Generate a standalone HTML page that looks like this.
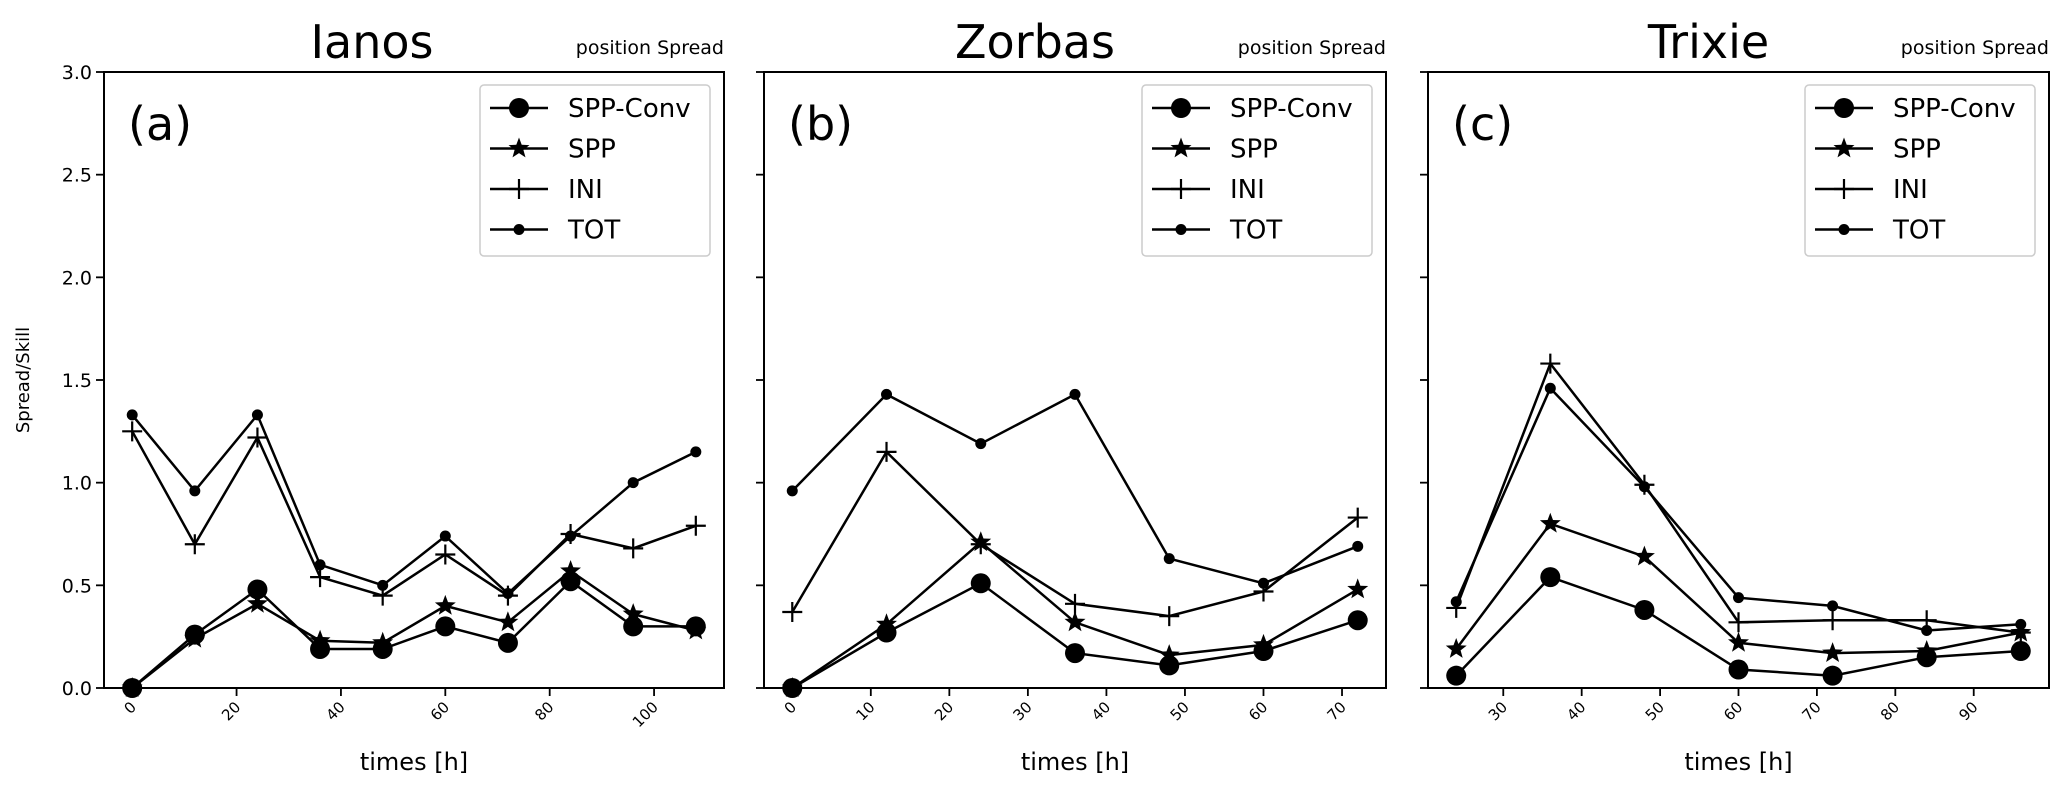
<!DOCTYPE html>
<html><head><meta charset="utf-8"><style>
body{margin:0;background:#fff;}
svg{display:block;font-family:"DejaVu Sans","Liberation Sans",sans-serif;}
</style></head><body>
<svg id="fig" width="2067" height="795" viewBox="0 0 2067 795"></svg>
<script>
const seriesNames = ["SPP-Conv","SPP","INI","TOT"];
const titles = ["Ianos","Zorbas","Trixie"];
const panelLabels = ["(a)","(b)","(c)"];
const timesA = [0,12,24,36,48,60,72,84,96,108];
const convA = [0,0.26,0.48,0.19,0.19,0.30,0.22,0.52,0.30,0.30];
const sppA = [0,0.24,0.41,0.23,0.22,0.40,0.32,0.57,0.36,0.28];
const iniA = [1.25,0.70,1.22,0.54,0.45,0.65,0.45,0.75,0.68,0.79];
const totA = [1.33,0.96,1.33,0.60,0.50,0.74,0.46,0.74,1.00,1.15];
const timesB = [0,12,24,36,48,60,72];
const convB = [0,0.27,0.51,0.17,0.11,0.18,0.33];
const sppB = [0,0.31,0.71,0.32,0.16,0.21,0.48];
const iniB = [0.37,1.15,0.70,0.41,0.35,0.47,0.83];
const totB = [0.96,1.43,1.19,1.43,0.63,0.51,0.69];
const timesC = [24,36,48,60,72,84,96];
const convC = [0.06,0.54,0.38,0.09,0.06,0.15,0.18];
const sppC = [0.19,0.80,0.64,0.22,0.17,0.18,0.27];
const iniC = [0.39,1.58,0.99,0.32,0.33,0.33,0.27];
const totC = [0.42,1.46,0.98,0.44,0.40,0.28,0.31];
const xTicksA = [0,20,40,60,80,100];
const xTicksB = [0,10,20,30,40,50,60,70];
const xTicksC = [30,40,50,60,70,80,90];
const yTicks = [0.0,0.5,1.0,1.5,2.0,2.5,3.0];

const NS="http://www.w3.org/2000/svg";
const svg=document.getElementById('fig');
function mk(tag,attrs,parent,text){const e=document.createElementNS(NS,tag);for(const k in attrs)e.setAttribute(k,attrs[k]);if(text!==undefined)e.textContent=text;(parent||svg).appendChild(e);return e;}

const panels=[
 {l:104,r:724,times:timesA,data:[convA,sppA,iniA,totA],ticks:xTicksA,toff:-42},
 {l:764,r:1386,times:timesB,data:[convB,sppB,iniB,totB],ticks:xTicksB,toff:-40},
 {l:1428,r:2049,times:timesC,data:[convC,sppC,iniC,totC],ticks:xTicksC,toff:-30}
];
const axTop=72,axBot=688;
function yS(v){return axBot-(v/3)*(axBot-axTop);}
function starPts(cx,cy,R){let p=[];for(let i=0;i<10;i++){const r=i%2?R*0.42:R;const a=-Math.PI/2+i*Math.PI/5;p.push((cx+r*Math.cos(a)).toFixed(1)+","+(cy+r*Math.sin(a)).toFixed(1));}return p.join(" ");}
function marker(g,k,x,y){
 let m;
 if(k===0){m=mk('circle',{cx:x,cy:y,r:10,fill:'#000'},g);}
 else if(k===1){m=mk('polygon',{points:starPts(x,y,11),fill:'#000'},g);}
 else if(k===2){m=mk('path',{d:`M${x-10},${y}H${x+10}M${x},${y-10}V${y+10}`,stroke:'#000','stroke-width':2.2},g);}
 else {m=mk('circle',{cx:x,cy:y,r:5.5,fill:'#000'},g);}
 
}

panels.forEach((P,pi)=>{
 const tmin=P.times[0],tmax=P.times[P.times.length-1],pad=(tmax-tmin)*0.05;
 const x0=tmin-pad,x1=tmax+pad;
 const xS=t=>P.l+(t-x0)/(x1-x0)*(P.r-P.l);
 const g=mk('g',{});
 
 
 const t=mk('text',{x:(P.l+P.r)/2+P.toff,y:58,'font-size':46,'text-anchor':'middle'},g,titles[pi]);
 
 
 const st=mk('text',{x:P.r,y:54,'font-size':19,'text-anchor':'end'},g,'position Spread');
 
 
 yTicks.forEach(v=>{
  const tk=mk('line',{x1:P.l-8,x2:P.l,y1:yS(v),y2:yS(v),stroke:'#000','stroke-width':1.8},g);
  
  
  if(pi===0){const tl=mk('text',{x:P.l-12,y:yS(v)+7,'font-size':19,'text-anchor':'end'},g,v.toFixed(1));
   
   }
 });
 P.ticks.forEach(v=>{
  const x=xS(v);
  const tk=mk('line',{x1:x,x2:x,y1:axBot,y2:axBot+8,stroke:'#000','stroke-width':1.8},g);
  
  
  const tl=mk('text',{x:x+5,y:axBot+20,'font-size':15,'text-anchor':'end',transform:`rotate(-45 ${x+5} ${axBot+20})`},g,String(v));
  
  
 });
 const xl=mk('text',{x:(P.l+P.r)/2,y:770,'font-size':24,'text-anchor':'middle'},g,'times [h]');
 
 
 P.data.forEach((arr,k)=>{
  const sg=mk('g',{},g);
  
  
  const pts=arr.map((v,i)=>xS(P.times[i]).toFixed(1)+','+yS(v).toFixed(1)).join(' ');
  const pl=mk('polyline',{points:pts,fill:'none',stroke:'#000','stroke-width':2.5},sg);
  
  
  arr.forEach((v,i)=>marker(sg,k,xS(P.times[i]),yS(v)));
 });
 const fr=mk('rect',{x:P.l,y:axTop,width:P.r-P.l,height:axBot-axTop,fill:'none',stroke:'#000','stroke-width':2},g);
 
 
 const pl=mk('text',{x:P.l+24,y:140,'font-size':46},g,panelLabels[pi]);
 
 
 const lg=mk('g',{},g);
 
 
 const lx=P.r-244;
 mk('rect',{x:lx,y:85,width:230,height:171,rx:4,fill:'#fff',stroke:'#ccc','stroke-width':1.5},lg);
 seriesNames.forEach((n,k)=>{
  const yy=108+k*40.5;
  const e=mk('g',{},lg);
  
  
  mk('line',{x1:lx+10,x2:lx+68,y1:yy,y2:yy,stroke:'#000','stroke-width':2.5},e);
  marker(e,k,lx+39,yy);
  mk('text',{x:lx+88,y:yy+9,'font-size':26},e,n);
 });
});
const yl=mk('text',{x:29,y:380,'font-size':18,'text-anchor':'middle',transform:'rotate(-90 29 380)'},svg,'Spread/Skill');


</script>
</body></html>
